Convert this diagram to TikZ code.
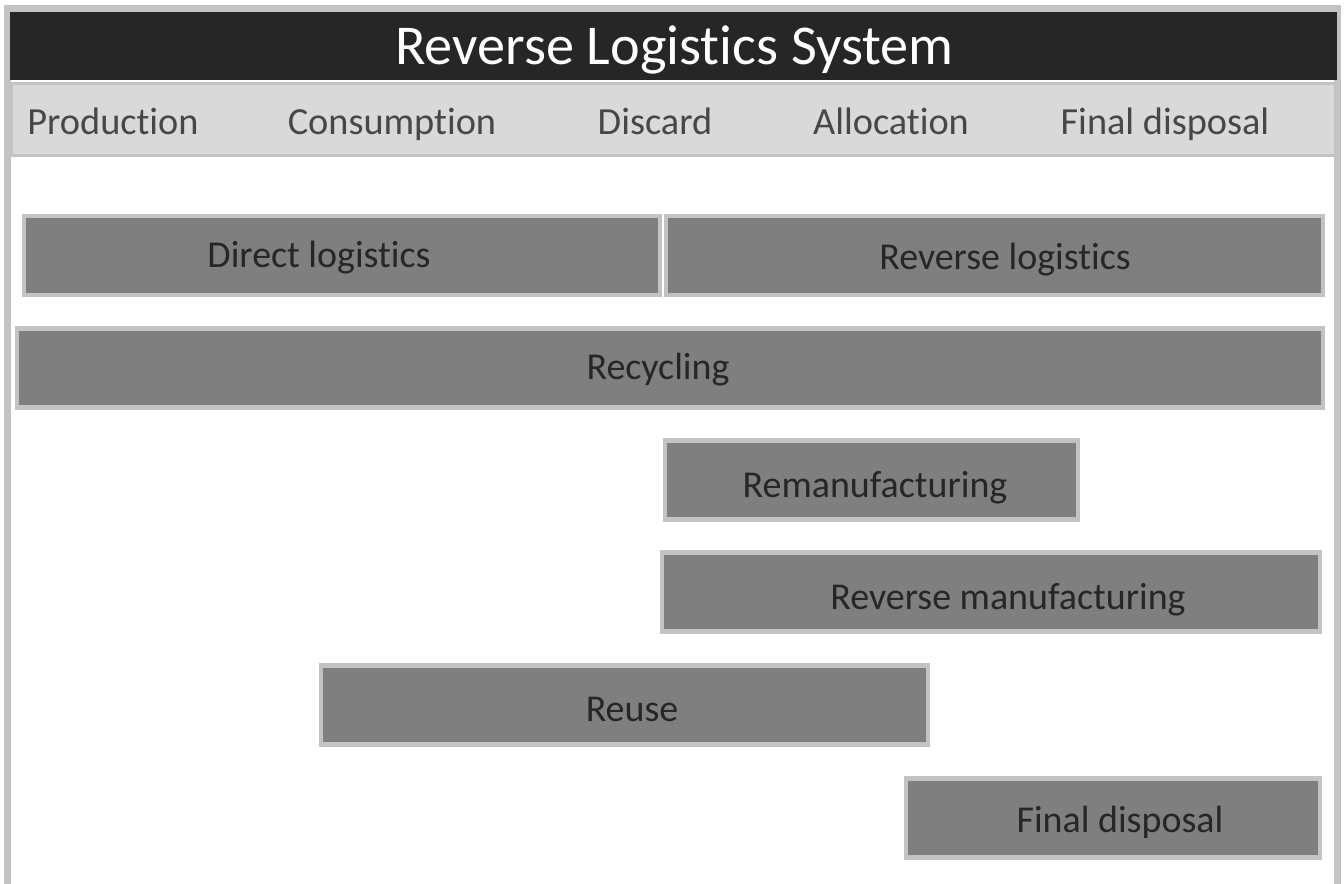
\documentclass[tikz,border=0pt]{standalone}
\usepackage{fontspec}
\setmainfont{Carlito}[Ligatures=NoCommon]
\usetikzlibrary{positioning}
\definecolor{framegray}{HTML}{C3C3C3}
\definecolor{titleblack}{HTML}{262626}
\definecolor{bandgray}{HTML}{D9D9D9}
\definecolor{boxgray}{HTML}{7F7F7F}
\definecolor{textgray}{HTML}{262626}

\begin{document}
\begin{tikzpicture}[
  phasebox/.style={rectangle, inner sep=0pt, minimum height=0.79cm, draw=framegray, line width=1.3pt, fill=boxgray},
  phasetext/.style={anchor=base, inner sep=0pt, font=\fontsize{10.8}{13}\selectfont, text=textgray},
  headtext/.style={anchor=base, inner sep=0pt, font=\fontsize{10.9}{13}\selectfont, text=textgray!85}
]
\clip (0,0) rectangle (13.44,-8.84);
\fill[white] (0,0) rectangle (13.44,-8.84);

% Frame, title bar and phase band
\draw[framegray, line width=1.8pt] (0.075,-0.085) rectangle (13.375,-9.5);
\node[rectangle, inner sep=0pt, minimum width=13.27cm, minimum height=0.68cm, fill=titleblack] (title) at (6.735,-0.46) {};
\node[rectangle, inner sep=0pt, minimum width=13.25cm, minimum height=0.72cm, fill=bandgray, draw=framegray, line width=1pt] (band) at (6.735,-1.195) {};

\node[anchor=base, inner sep=0pt, font=\fontsize{16}{19}\selectfont, text=white] (titletext) at (6.745,-0.645) {Reverse Logistics System};

\node[headtext] (hprod) at (1.13,-1.35) {Production};
\node[headtext] (hcons) at (3.92,-1.35) {Consumption};
\node[headtext] (hdisc) at (6.55,-1.35) {Discard};
\node[headtext] (halloc) at (8.91,-1.35) {Allocation};
\node[headtext] (hfinal) at (11.65,-1.35) {Final disposal};

% Boxes
\node[phasebox, minimum width=6.36cm] (direct) at (3.42,-2.555) {};
\node[phasebox, minimum width=6.57cm] (reverse) at (9.945,-2.555) {};
\node[phasebox, minimum width=13.06cm] (recycling) at (6.70,-3.68) {};
\node[phasebox, minimum width=4.13cm] (reman) at (8.715,-4.80) {};
\node[phasebox, minimum width=6.58cm] (revman) at (9.91,-5.92) {};
\node[phasebox, minimum width=6.07cm] (reuse) at (6.245,-7.05) {};
\node[phasebox, minimum width=4.14cm] (disposal) at (11.13,-8.18) {};

% Labels
\node[phasetext] (directtext) at (3.19,-2.68) {Direct logistics};
\node[phasetext] (reversetext) at (10.05,-2.70) {Reverse logistics};
\node[phasetext] (recyclingtext) at (6.58,-3.80) {Recycling};
\node[phasetext] (remantext) at (8.75,-4.98) {Remanufacturing};
\node[phasetext] (revmantext) at (10.08,-6.10) {Reverse manufacturing};
\node[phasetext] (reusetext) at (6.32,-7.22) {Reuse};
\node[phasetext] (disposaltext) at (11.20,-8.33) {Final disposal};
\end{tikzpicture}
\end{document}
